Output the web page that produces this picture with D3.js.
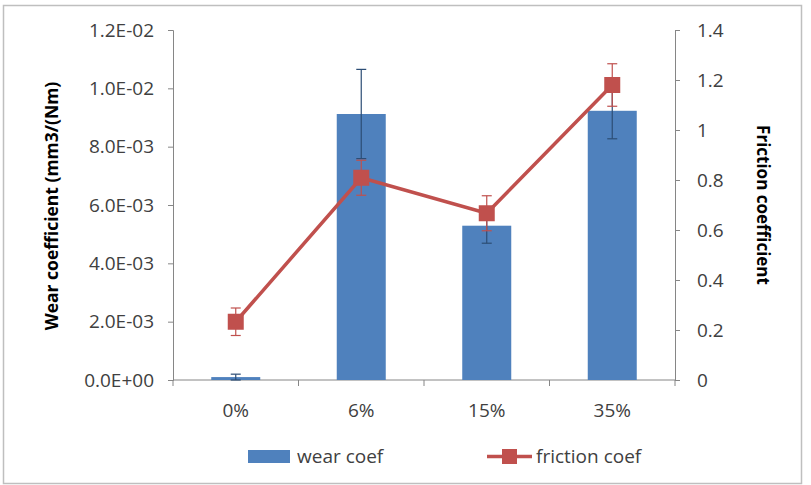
<!DOCTYPE html>
<html>
<head>
<meta charset="utf-8">
<script src="https://cdn.jsdelivr.net/npm/d3@7"></script>
<style>
  body { margin: 0; background: #fff; }
  svg text { font-family: "Open Sans", Lato, sans-serif; }
</style>
</head>
<body>
<div id="chart"></div>
<script>
// Data
const categories = ["0%", "6%", "15%", "35%"];
const wearCoef = [0.0001, 0.00912, 0.00529, 0.00923];
const wearErr = [0.0001, 0.00153, 0.0006, 0.00096];
const frictionCoef = [0.233, 0.809, 0.667, 1.18];
const frictionErr = [0.055, 0.07, 0.07, 0.085];
const leftTicks = [0, 0.002, 0.004, 0.006, 0.008, 0.010, 0.012];
const rightTicks = [0, 0.2, 0.4, 0.6, 0.8, 1, 1.2, 1.4];

const width = 811, height = 485;
const plot = { left: 173, right: 675, top: 30, bottom: 380 };

const svg = d3.select("#chart").append("svg")
  .attr("width", width)
  .attr("height", height);

// outer frame
svg.append("rect")
  .attr("x", 3.5).attr("y", 5.5)
  .attr("width", 798).attr("height", 478)
  .attr("fill", "#fff")
  .attr("stroke", "#bfbfbf")
  .attr("stroke-width", 1.5);

const x = d3.scaleBand().domain(categories).range([plot.left, plot.right]).paddingInner(0).paddingOuter(0);
const yL = d3.scaleLinear().domain([0, 0.012]).range([plot.bottom, plot.top]);
const yR = d3.scaleLinear().domain([0, 1.4]).range([plot.bottom, plot.top]);

const axisColor = "#868686";
const textColor = "#404040";

// left axis
const leftAxis = svg.append("g")
  .attr("transform", `translate(${plot.left},0)`)
  .call(d3.axisLeft(yL).tickValues(leftTicks).tickSize(5).tickPadding(14)
    .tickFormat(d => d3.format(".1e")(d).replace(/e([+-])(\d)$/, "E$10$2").replace("e", "E")));
// right axis
const rightAxis = svg.append("g")
  .attr("transform", `translate(${plot.right},0)`)
  .call(d3.axisRight(yR).tickValues(rightTicks).tickSize(5).tickPadding(17)
    .tickFormat(d => d3.format("~g")(d)));
// bottom axis
const bottomAxis = svg.append("g")
  .attr("transform", `translate(0,${plot.bottom})`);
bottomAxis.append("line")
  .attr("x1", plot.left).attr("x2", plot.right)
  .attr("stroke", axisColor);
bottomAxis.selectAll(".tk")
  .data(d3.range(categories.length + 1))
  .enter().append("line")
  .attr("x1", i => plot.left + i * x.bandwidth())
  .attr("x2", i => plot.left + i * x.bandwidth())
  .attr("y1", 0).attr("y2", 6)
  .attr("stroke", axisColor);
bottomAxis.selectAll("text")
  .data(categories)
  .enter().append("text")
  .attr("x", d => x(d) + x.bandwidth() / 2)
  .attr("y", 37)
  .attr("text-anchor", "middle")
  .attr("fill", textColor)
  .style("font-size", "19px")
  .text(d => d);

[leftAxis, rightAxis].forEach(g => {
  g.select(".domain").attr("stroke", axisColor);
  g.selectAll(".tick line").attr("stroke", axisColor);
  g.selectAll(".tick text").attr("fill", textColor).style("font-size", "19px");
});

// bars
const barW = 49;
svg.append("g").selectAll("rect")
  .data(wearCoef)
  .enter().append("rect")
  .attr("x", (d, i) => x(categories[i]) + x.bandwidth() / 2 - barW / 2)
  .attr("y", d => yL(d))
  .attr("width", barW)
  .attr("height", d => plot.bottom - yL(d))
  .attr("fill", "#4f81bd");

// error bars helper
function errorBars(values, errs, scale, color) {
  const g = svg.append("g").attr("stroke", color).attr("stroke-width", 1.2);
  values.forEach((v, i) => {
    const cx = x(categories[i]) + x.bandwidth() / 2;
    const y1 = scale(v - errs[i]), y2 = scale(v + errs[i]);
    g.append("line").attr("x1", cx).attr("x2", cx).attr("y1", y1).attr("y2", y2);
    g.append("line").attr("x1", cx - 5).attr("x2", cx + 5).attr("y1", y1).attr("y2", y1);
    g.append("line").attr("x1", cx - 5).attr("x2", cx + 5).attr("y1", y2).attr("y2", y2);
  });
}
errorBars(wearCoef, wearErr, yL, "#2c4d75");

// friction line
const line = d3.line()
  .x((d, i) => x(categories[i]) + x.bandwidth() / 2)
  .y(d => yR(d));
errorBars(frictionCoef, frictionErr, yR, "#c0504d");
svg.append("path")
  .datum(frictionCoef)
  .attr("d", line)
  .attr("fill", "none")
  .attr("stroke", "#c0504d")
  .attr("stroke-width", 3.5);
const mk = 16;
svg.append("g").selectAll("rect")
  .data(frictionCoef)
  .enter().append("rect")
  .attr("x", (d, i) => x(categories[i]) + x.bandwidth() / 2 - mk / 2)
  .attr("y", d => yR(d) - mk / 2)
  .attr("width", mk).attr("height", mk)
  .attr("fill", "#c0504d");

// axis titles
svg.append("text")
  .attr("transform", `translate(58,206) rotate(-90)`)
  .attr("text-anchor", "middle")
  .style("font-size", "17.5px")
  .style("font-weight", "bold")
  .attr("fill", "#000")
  .text("Wear coefficient (mm3/(Nm)");
svg.append("text")
  .attr("transform", `translate(757,205) rotate(90)`)
  .attr("text-anchor", "middle")
  .style("font-size", "17px")
  .style("font-weight", "bold")
  .attr("fill", "#000")
  .text("Friction coefficient");

// legend
const legend = svg.append("g");
legend.append("rect")
  .attr("x", 248).attr("y", 450)
  .attr("width", 42).attr("height", 13)
  .attr("fill", "#4f81bd");
legend.append("text")
  .attr("x", 297).attr("y", 463)
  .attr("fill", textColor)
  .style("font-size", "19px")
  .text("wear coef");
legend.append("line")
  .attr("x1", 487).attr("x2", 532)
  .attr("y1", 456.5).attr("y2", 456.5)
  .attr("stroke", "#c0504d").attr("stroke-width", 3.5);
legend.append("rect")
  .attr("x", 502).attr("y", 449)
  .attr("width", 15).attr("height", 15)
  .attr("fill", "#c0504d");
legend.append("text")
  .attr("x", 536).attr("y", 463)
  .attr("fill", textColor)
  .style("font-size", "19px")
  .text("friction coef");
</script>
</body>
</html>
